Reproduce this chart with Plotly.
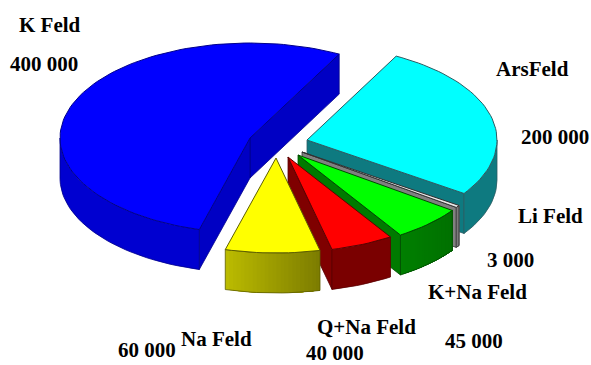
import math
import plotly.graph_objects as go

# Feldspar resource figures
categories = ["K Feld", "Na Feld", "Q+Na Feld", "K+Na Feld", "Li Feld", "ArsFeld"]
values = [400000, 60000, 40000, 45000, 3000, 200000]

# Slice styling, in the same order as the categories
top_colors = ["#0000ff", "#ffff00", "#ff0000", "#00ff00", "#e8e8e8", "#00ffff"]
cut_colors = ["#0000c4", "#808000", "#7f0000", "#007a00", "#808080", "#0e7a80"]
rim_left = ["#0000d0", "#bcbc00", "#7a0000", "#007f00", "#8a8a8a", "#0e7a80"]
rim_right = ["#0000d0", "#7c7c00", "#7a0000", "#007000", "#707070", "#0e7a80"]
edge_colors = ["#00008c", "#5e5e00", "#5a0000", "#004a00", "#303030", "#2c5c62"]

# Where each exploded slice has its tip on the drawing plane
tips = [(250, 138), (276, 158), (288, 157), (298, 155), (302, 152), (307, 140)]

# Draw order runs from the back of the pie to the front
draw_order = [0, 5, 4, 3, 2, 1]

START_DEG = 62.0
RX, RY = 190, 95
DEPTH = 40

# Label centres
name_pos = [(50, 25), (216, 339), (366, 327), (477, 292), (550, 216), (532, 69)]
value_pos = [(44, 64), (147, 350), (335, 353), (474, 341), (510, 260), (555, 137)]


def rim_point(tip, deg):
    rad = math.radians(deg)
    return tip[0] + RX * math.cos(rad), tip[1] - RY * math.sin(rad)


def arc(tip, a, b, step=2.0):
    n = max(2, int(abs(b - a) / step) + 2)
    return [rim_point(tip, a + (b - a) * i / (n - 1)) for i in range(n)]


def mix(c1, c2, f):
    p = [int(c1[i:i + 2], 16) for i in (1, 3, 5)]
    q = [int(c2[i:i + 2], 16) for i in (1, 3, 5)]
    return "rgb({},{},{})".format(*[round(u + (v - u) * f) for u, v in zip(p, q)])


def poly(fig, pts, fill, line=None, width=1.0):
    xs = [p[0] for p in pts] + [pts[0][0]]
    ys = [p[1] for p in pts] + [pts[0][1]]
    fig.add_trace(go.Scatter(
        x=xs, y=ys, mode="lines", fill="toself", fillcolor=fill,
        line=dict(color=line or fill, width=width),
        hoverinfo="skip", showlegend=False,
    ))


def drop(pts):
    return [(x, y + DEPTH) for x, y in pts]


fig = go.Figure()

# Convert the values into angular spans, counter-clockwise from the start angle
total = sum(values)
spans = []
angle = START_DEG
for v in values:
    spans.append((angle, angle + v / total * 360.0))
    angle += v / total * 360.0

for i in draw_order:
    a, b = spans[i]
    tip = tips[i]
    tip_low = (tip[0], tip[1] + DEPTH)
    edge = edge_colors[i]

    # Flat cut faces that turn towards the viewer
    if math.cos(math.radians(a)) > 0:
        p = rim_point(tip, a)
        poly(fig, [tip, p, (p[0], p[1] + DEPTH), tip_low], cut_colors[i], edge, 0.8)
    if math.cos(math.radians(b)) < 0:
        p = rim_point(tip, b)
        poly(fig, [tip, p, (p[0], p[1] + DEPTH), tip_low], cut_colors[i], edge, 0.8)

    # Curved rim: only the part on the front half of the ellipse shows
    lo, hi = None, None
    for base in (0, 360):
        s, e = max(a, 180 + base), min(b, 360 + base)
        if e > s:
            lo, hi = s, e
    if lo is not None:
        # Each band runs to the far end of the rim, so later bands paint over
        # earlier ones and no seams open between them
        bands = 24 if rim_left[i] != rim_right[i] else 1
        for k in range(bands):
            s = lo + (hi - lo) * k / bands
            band = arc(tip, s, hi)
            color = mix(rim_left[i], rim_right[i], (k + 0.5) / bands)
            xs_line = band + drop(band)[::-1]
            fig.add_trace(go.Scatter(
                x=[p[0] for p in xs_line] + [xs_line[0][0]],
                y=[p[1] for p in xs_line] + [xs_line[0][1]],
                mode="none", fill="toself", fillcolor=color,
                hoverinfo="skip", showlegend=False,
            ))
        outline = arc(tip, lo, hi)
        poly(fig, outline + drop(outline)[::-1], "rgba(0,0,0,0)", edge, 0.8)

    # Top face
    poly(fig, [tip] + arc(tip, a, b), top_colors[i], edge, 1.0)


def fmt(v):
    return f"{v:,}".replace(",", " ")


annotations = []
for name, v, np_, vp in zip(categories, values, name_pos, value_pos):
    for text, pos in ((name, np_), (fmt(v), vp)):
        annotations.append(dict(
            x=pos[0], y=pos[1], text=f"<b>{text}</b>", showarrow=False,
            xanchor="center", yanchor="middle",
            font=dict(family="Liberation Serif", size=21, color="#000000"),
        ))

fig.update_layout(
    width=591, height=365,
    margin=dict(l=0, r=0, t=0, b=0),
    paper_bgcolor="#ffffff", plot_bgcolor="#ffffff",
    xaxis=dict(range=[0, 591], visible=False, fixedrange=True),
    yaxis=dict(range=[365, 0], visible=False, fixedrange=True),
    annotations=annotations,
    showlegend=False,
)

fig.write_html("out.html", config={"displayModeBar": False})
